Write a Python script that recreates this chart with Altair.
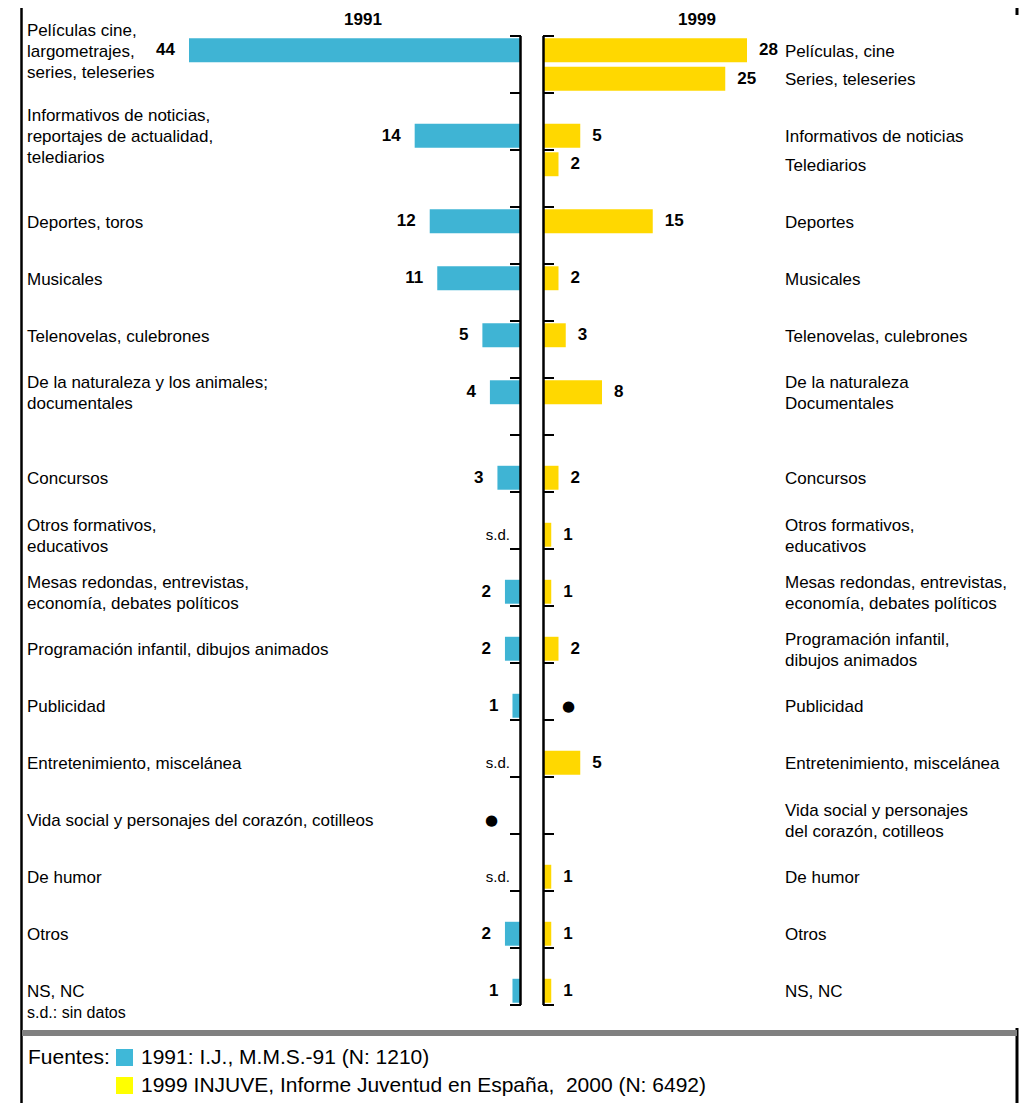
import altair as alt
import pandas as pd

# ---------------- data ----------------
left_categories = [
    "Películas cine,\nlargometrajes,\nseries, teleseries",
    "Informativos de noticias,\nreportajes de actualidad,\ntelediarios",
    "Deportes, toros",
    "Musicales",
    "Telenovelas, culebrones",
    "De la naturaleza y los animales;\ndocumentales",
    "Concursos",
    "Otros formativos,\neducativos",
    "Mesas redondas, entrevistas,\neconomía, debates políticos",
    "Programación infantil, dibujos animados",
    "Publicidad",
    "Entretenimiento, miscelánea",
    "Vida social y personajes del corazón, cotilleos",
    "De humor",
    "Otros",
    "NS, NC",
]
left_rows = [0, 3, 6, 8, 10, 12, 15, 17, 19, 21, 23, 25, 27, 29, 31, 33]
left_values = [44, 14, 12, 11, 5, 4, 3, None, 2, 2, 1, None, 0, None, 2, 1]
left_labels = ["44", "14", "12", "11", "5", "4", "3", "s.d.", "2", "2", "1",
               "s.d.", "●", "s.d.", "2", "1"]

right_categories = [
    "Películas, cine",
    "Series, teleseries",
    "Informativos de noticias",
    "Telediarios",
    "Deportes",
    "Musicales",
    "Telenovelas, culebrones",
    "De la naturaleza\nDocumentales",
    "Concursos",
    "Otros formativos,\neducativos",
    "Mesas redondas, entrevistas,\neconomía, debates políticos",
    "Programación infantil,\ndibujos animados",
    "Publicidad",
    "Entretenimiento, miscelánea",
    "Vida social y personajes\ndel corazón, cotilleos",
    "De humor",
    "Otros",
    "NS, NC",
]
right_rows = [0, 1, 3, 4, 6, 8, 10, 12, 15, 17, 19, 21, 23, 25, 27, 29, 31, 33]
right_values = [28, 25, 5, 2, 15, 2, 3, 8, 2, 1, 1, 2, 0, 5, None, 1, 1, 1]
right_labels = ["28", "25", "5", "2", "15", "2", "3", "8", "2", "1", "1", "2",
                "●", "5", "", "1", "1", "1"]

tick_rows = list(range(0, 35, 2))
year_titles = ["1991", "1999"]
note_text = "s.d.: sin datos"
sources_title = "Fuentes:"
source_notes = ["1991: I.J., M.M.S.-91 (N: 1210)",
                "1999 INJUVE, Informe Juventud en España,\u00a0 2000 (N: 6492)"]

# ---------------- styles ----------------
BLUE = "#3fb4d4"
YELLOW = "#ffd800"
LEG_BLUE = "#3fb8d8"
LEG_YELLOW = "#ffff00"
FONT = "Liberation Sans"
CAT_SIZE = 17
LINE_H = 21
SLOT_PX = 969 / 34

W, H = 1019, 1095

YS = alt.Scale(domain=[0, 34], range=[28, 997], zero=False, nice=False)
LX = alt.Scale(domain=[0, 44], range=[512, 181], zero=False, nice=False)
RX = alt.Scale(domain=[0, 28], range=[536, 739], zero=False, nice=False)

left_df = pd.DataFrame({"cat": left_categories, "row": left_rows,
                        "val": left_values, "lbl": left_labels})
right_df = pd.DataFrame({"cat": right_categories, "row": right_rows,
                         "val": right_values, "lbl": right_labels})
ticks_df = pd.DataFrame({"row": tick_rows})
one = pd.DataFrame({"k": [0]})

calc = dict(
    y0="datum.row + 0.08", y1="datum.row + 0.92",
    yc="datum.row + 0.5", z="0",
    xv="isValid(datum.val) ? datum.val : 0",
    yt="datum.row + 0.55 - (split(datum.cat, '\\n').length - 1) * 0.5 * %f" % (LINE_H / SLOT_PX),
)


def base(df):
    return alt.Chart(df).transform_calculate(**calc)


def bars(df, scale, color):
    return base(df).transform_filter("isValid(datum.val) && datum.val > 0").mark_rect(
        color=color
    ).encode(
        x=alt.X("val:Q", scale=scale, axis=None),
        x2="z:Q",
        y=alt.Y("y0:Q", scale=YS, axis=None),
        y2="y1:Q",
    )


left_bars = bars(left_df, LX, BLUE)
right_bars = bars(right_df, RX, YELLOW)

left_num = base(left_df).transform_filter(
    "datum.lbl != 's.d.' && datum.lbl != '●'").mark_text(
    align="right", baseline="middle", dx=-14, font=FONT, fontSize=17,
    fontWeight="bold", color="black"
).encode(x=alt.X("xv:Q", scale=LX, axis=None),
         y=alt.Y("yc:Q", scale=YS, axis=None), text="lbl:N")

left_dot = base(left_df).transform_filter("datum.lbl == '●'").mark_text(
    align="right", baseline="middle", dx=-22, font="DejaVu Sans", fontSize=15,
    color="black"
).encode(x=alt.X("xv:Q", scale=LX, axis=None),
         y=alt.Y("yc:Q", scale=YS, axis=None), text="lbl:N")

left_sd = base(left_df).transform_filter("datum.lbl == 's.d.'").mark_text(
    align="right", baseline="middle", dx=-10, font=FONT, fontSize=15,
    color="black"
).encode(x=alt.X("xv:Q", scale=LX, axis=None),
         y=alt.Y("yc:Q", scale=YS, axis=None), text="lbl:N")

right_num = base(right_df).transform_filter(
    "datum.lbl != '' && datum.lbl != '●'").mark_text(
    align="left", baseline="middle", dx=12, font=FONT, fontSize=17,
    fontWeight="bold", color="black"
).encode(x=alt.X("xv:Q", scale=RX, axis=None),
         y=alt.Y("yc:Q", scale=YS, axis=None), text="lbl:N")

right_dot = base(right_df).transform_filter("datum.lbl == '●'").mark_text(
    align="left", baseline="middle", dx=18, font="DejaVu Sans", fontSize=15,
    color="black"
).encode(x=alt.X("xv:Q", scale=RX, axis=None),
         y=alt.Y("yc:Q", scale=YS, axis=None), text="lbl:N")

left_cat = base(left_df).mark_text(
    align="left", baseline="middle", font=FONT, fontSize=CAT_SIZE,
    lineBreak="\n", lineHeight=LINE_H, color="black"
).encode(x=alt.value(19), y=alt.Y("yt:Q", scale=YS, axis=None), text="cat:N")

right_cat = base(right_df).mark_text(
    align="left", baseline="middle", font=FONT, fontSize=CAT_SIZE,
    lineBreak="\n", lineHeight=LINE_H, color="black"
).encode(x=alt.value(777), y=alt.Y("yt:Q", scale=YS, axis=None), text="cat:N")

left_ticks = alt.Chart(ticks_df).mark_rule(color="black", strokeWidth=2).encode(
    x=alt.value(502), x2=alt.value(513), y=alt.Y("row:Q", scale=YS, axis=None))
right_ticks = alt.Chart(ticks_df).mark_rule(color="black", strokeWidth=2).encode(
    x=alt.value(535), x2=alt.value(546), y=alt.Y("row:Q", scale=YS, axis=None))

axis_df = pd.DataFrame({"a": [0], "b": [34]})
left_axis = alt.Chart(axis_df).mark_rule(color="black", strokeWidth=2.5).encode(
    x=alt.value(512.5), y=alt.Y("a:Q", scale=YS, axis=None), y2="b:Q")
right_axis = alt.Chart(axis_df).mark_rule(color="black", strokeWidth=2.5).encode(
    x=alt.value(535.5), y=alt.Y("a:Q", scale=YS, axis=None), y2="b:Q")

title_1991 = alt.Chart(one).mark_text(
    text=year_titles[0], font=FONT, fontSize=17, fontWeight="bold",
    align="center", baseline="middle", color="black"
).encode(x=alt.value(355), y=alt.value(12))
title_1999 = alt.Chart(one).mark_text(
    text=year_titles[1], font=FONT, fontSize=17, fontWeight="bold",
    align="center", baseline="middle", color="black"
).encode(x=alt.value(689), y=alt.value(12))

note = alt.Chart(one).mark_text(
    text=note_text, font=FONT, fontSize=16, align="left", baseline="middle",
    color="black"
).encode(x=alt.value(19), y=alt.value(1005))

# frame
frame_left = alt.Chart(one).mark_rule(color="black", strokeWidth=2.5).encode(
    x=alt.value(13.5), y=alt.value(0), y2=alt.value(H))
frame_top_right = alt.Chart(one).mark_rule(color="black", strokeWidth=3).encode(
    x=alt.value(1009), y=alt.value(0), y2=alt.value(7))
frame_bottom_right = alt.Chart(one).mark_rule(color="black", strokeWidth=3).encode(
    x=alt.value(1009), y=alt.value(1020), y2=alt.value(H))
gray_line = alt.Chart(one).mark_rule(color="#808080", strokeWidth=6).encode(
    x=alt.value(14), x2=alt.value(1009), y=alt.value(1025))

# sources legend
SRC_SIZE = 21
src_title = alt.Chart(one).mark_text(
    text=sources_title, font=FONT, fontSize=SRC_SIZE, align="left", baseline="middle",
    color="black"
).encode(x=alt.value(20), y=alt.value(1050))
sw1 = alt.Chart(one).mark_rect(color=LEG_BLUE).encode(
    x=alt.value(108), x2=alt.value(125), y=alt.value(1041), y2=alt.value(1058))
sw2 = alt.Chart(one).mark_rect(color=LEG_YELLOW).encode(
    x=alt.value(108), x2=alt.value(125), y=alt.value(1069), y2=alt.value(1086))
src1 = alt.Chart(one).mark_text(
    text=source_notes[0], font=FONT, fontSize=SRC_SIZE, align="left", baseline="middle",
    color="black"
).encode(x=alt.value(133), y=alt.value(1050))
src2 = alt.Chart(one).mark_text(
    text=source_notes[1], font=FONT, fontSize=SRC_SIZE, align="left", baseline="middle",
    color="black"
).encode(x=alt.value(133), y=alt.value(1078))

chart = alt.layer(
    left_bars, right_bars, left_ticks, right_ticks, left_axis, right_axis,
    left_num, left_dot, left_sd, right_num, right_dot, left_cat, right_cat,
    title_1991, title_1999, note,
    frame_left, frame_top_right, frame_bottom_right, gray_line,
    src_title, sw1, sw2, src1, src2,
).resolve_scale(x="independent").properties(
    width=W, height=H, autosize=alt.AutoSizeParams(type="none"), padding=0,
    background="white",
).configure_view(stroke=None)

chart.save("out.html", embed_options={"renderer": "svg", "actions": False})
